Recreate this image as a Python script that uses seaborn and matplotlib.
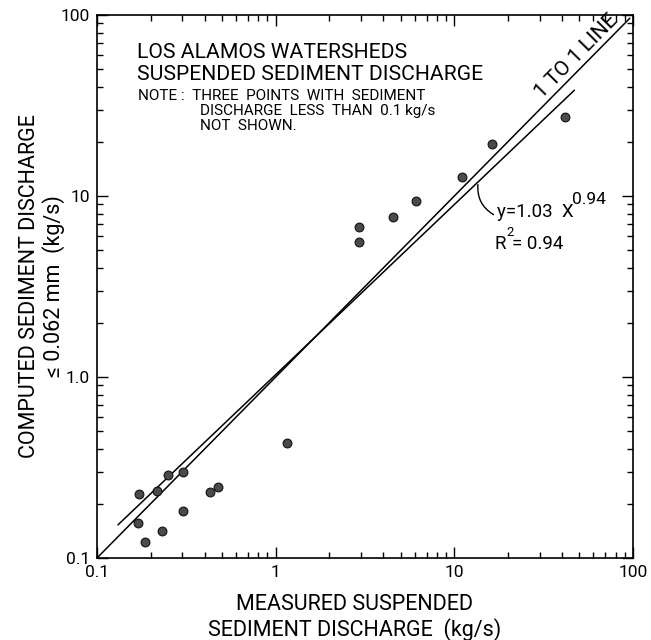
import numpy as np
import pandas as pd
import matplotlib
matplotlib.use("Agg")
import matplotlib.pyplot as plt
import seaborn as sns

# ---- data ----
measured = [0.171, 0.169, 0.185, 0.217, 0.251, 0.303, 0.230, 0.303, 0.430, 0.474,
            1.16, 2.94, 2.94, 4.55, 6.10, 11.0, 16.2, 41.6]
computed = [0.227, 0.157, 0.122, 0.234, 0.289, 0.299, 0.141, 0.182, 0.233, 0.248,
            0.430, 6.76, 5.60, 7.62, 9.38, 12.8, 19.4, 27.2]

fit_coef = 1.03
fit_exp = 0.94
fit_x_range = [0.131, 47.0]
one_to_one_range = [0.1, 96.0]

x_tick_values = [0.1, 1, 10, 100]
x_tick_labels = ["0.1", "1", "10", "100"]
y_tick_values = [0.1, 1, 10, 100]
y_tick_labels = ["0.1", "1.0", "10", "100"]

sns.set_style("ticks")
plt.rcParams["font.family"] = ["Roboto", "DejaVu Sans"]
plt.rcParams["text.color"] = "black"
plt.rcParams["axes.labelcolor"] = "black"

W, H = 651, 640
fig = plt.figure(figsize=(W / 100, H / 100), dpi=100)
ax = fig.add_axes([97 / W, 1 - 558 / H, (633 - 97) / W, (558 - 15) / H])

pts = pd.DataFrame({"measured": measured, "computed": computed})
sns.scatterplot(data=pts, x="measured", y="computed", ax=ax, s=40,
                color="#4a4a4a", edgecolor="#111111", linewidth=0.8, zorder=3)

fx = np.array(fit_x_range)
fit_df = pd.DataFrame({"x": fx, "y": fit_coef * fx ** fit_exp})
sns.lineplot(data=fit_df, x="x", y="y", ax=ax, color="black", lw=1.1)
one_df = pd.DataFrame({"x": one_to_one_range, "y": one_to_one_range})
sns.lineplot(data=one_df, x="x", y="y", ax=ax, color="black", lw=1.1)

ax.set_xscale("log")
ax.set_yscale("log")
ax.set_xlim(0.1, 100)
ax.set_ylim(0.1, 100)
ax.set_xticks(x_tick_values)
ax.set_xticklabels(x_tick_labels)
ax.set_yticks(y_tick_values)
ax.set_yticklabels(y_tick_labels)
ax.tick_params(which="both", direction="in", top=True, right=True, width=1.0,
               labelsize=12.5, colors="black")
ax.tick_params(which="major", length=8, pad=5)
ax.tick_params(which="minor", length=4)
for sp in ax.spines.values():
    sp.set_linewidth(1.2)
    sp.set_color("black")

ax.set_xlabel("MEASURED SUSPENDED\nSEDIMENT DISCHARGE  (kg/s)", fontsize=15.5,
              linespacing=1.15, color="black")
ax.xaxis.set_label_coords(0.48, -0.066)
ax.set_ylabel("COMPUTED SEDIMENT DISCHARGE\n\u2264 0.062 mm  (kg/s)", fontsize=15.5,
              linespacing=1.15, color="black")
ax.yaxis.set_label_coords(-0.059, 0.5)

def fp(px, py):
    return (px / W, 1 - py / H)

tf = fig.transFigure
fig.text(*fp(137, 53), "LOS ALAMOS WATERSHEDS", transform=tf, fontsize=15.2,
         va="center", ha="left")
fig.text(*fp(137, 74), "SUSPENDED SEDIMENT DISCHARGE", transform=tf, fontsize=15.2,
         va="center", ha="left")
fig.text(*fp(138, 96), "NOTE :  THREE  POINTS  WITH  SEDIMENT", transform=tf,
         fontsize=11, va="center", ha="left")
fig.text(*fp(200, 111), "DISCHARGE  LESS  THAN  0.1 kg/s", transform=tf, fontsize=11,
         va="center", ha="left")
fig.text(*fp(200, 126), "NOT  SHOWN.", transform=tf, fontsize=11,
         va="center", ha="left")

ax.text(48, 59, "1 TO 1 LINE", fontsize=15, rotation=45.4, ha="center",
        va="center", rotation_mode="anchor")

fig.text(*fp(497, 212), "y=1.03  X", transform=tf, fontsize=13.5, va="center", ha="left")
fig.text(*fp(572, 199), "0.94", transform=tf, fontsize=12.5, va="center", ha="left")
fig.text(*fp(495, 244), "R", transform=tf, fontsize=13.5, va="center", ha="left")
fig.text(*fp(506, 232), "2", transform=tf, fontsize=9.5, va="center", ha="left")
fig.text(*fp(512, 244), "= 0.94", transform=tf, fontsize=13.5, va="center", ha="left")

ax.annotate("", xy=(13.6, fit_coef * 13.6 ** fit_exp), xycoords="data",
            xytext=fp(496, 216), textcoords="figure fraction",
            arrowprops=dict(arrowstyle="-", color="black", lw=1.0,
                            connectionstyle="arc3,rad=-0.35"))

fig.savefig("out.png", dpi=100, facecolor="white")
